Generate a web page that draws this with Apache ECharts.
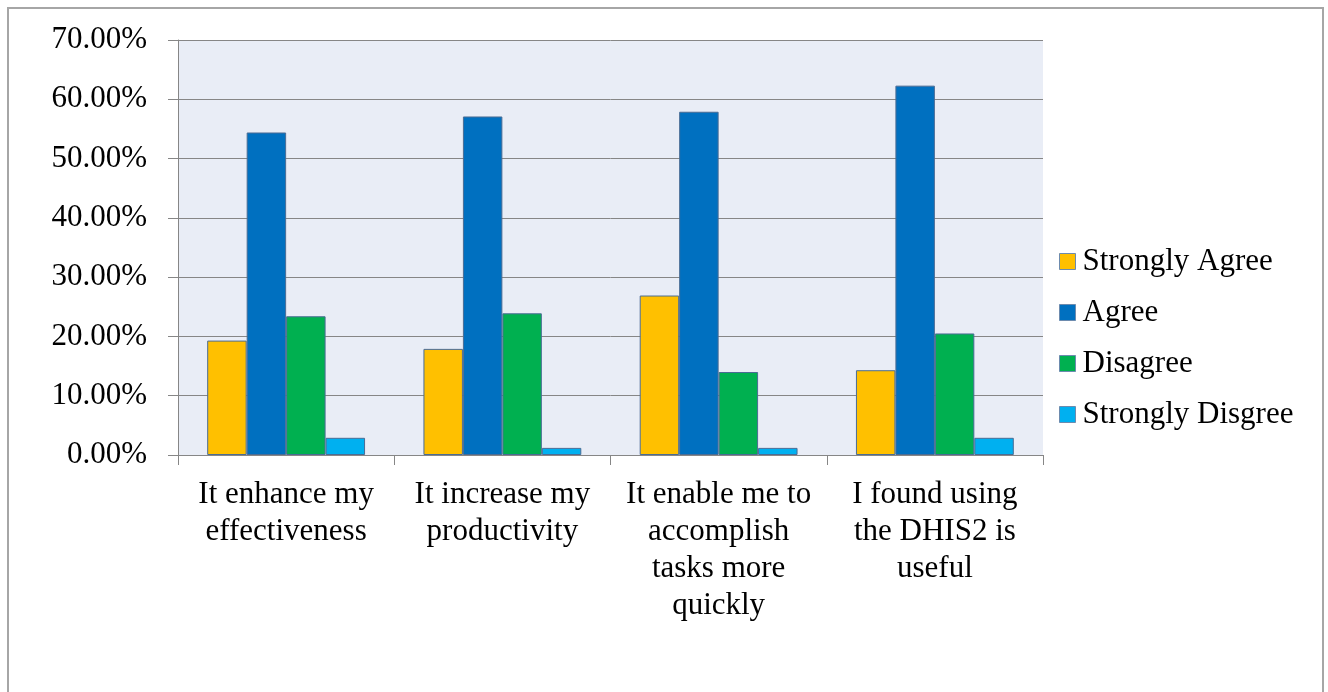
<!DOCTYPE html>
<html>
<head>
<meta charset="utf-8">
<title>DHIS2 usefulness survey</title>
<script src="https://cdn.jsdelivr.net/npm/echarts@6/dist/echarts.min.js"></script>
<style>
  html, body { margin: 0; padding: 0; background: #ffffff; }
  #chart { width: 1328px; height: 692px; }
</style>
</head>
<body>
<div id="chart"></div>
<script>
// Survey statements (x categories)
const categories = [
  'It enhance my\neffectiveness',
  'It increase my\nproductivity',
  'It enable me to\naccomplish\ntasks more\nquickly',
  'I found using\nthe DHIS2 is\nuseful'
];

// Share of respondents per answer, in percent
const stronglyAgree    = [19.3, 17.9, 26.9, 14.3];
const agree            = [54.4, 57.1, 57.9, 62.3];
const disagree         = [23.4, 23.9, 14.0, 20.5];
const stronglyDisagree = [2.9, 1.2, 1.2, 2.9];

const seriesNames  = ['Strongly Agree', 'Agree', 'Disagree', 'Strongly Disgree'];
const seriesColors = ['#FFC000', '#0070C0', '#00B050', '#00B0F0'];
const seriesData   = [stronglyAgree, agree, disagree, stronglyDisagree];

const FONT = "'Liberation Serif', 'Times New Roman', serif";

const chart = echarts.init(document.getElementById('chart'), null, { renderer: 'canvas' });

chart.setOption({
  animation: false,
  backgroundColor: '#ffffff',
  textStyle: { fontFamily: FONT, color: '#000' },
  graphic: [{
    type: 'rect',
    shape: { x: 8, y: 8, width: 1315, height: 720 },
    style: { fill: 'none', stroke: '#a6a6a6', lineWidth: 2 },
    silent: true,
    z: -10
  }],
  grid: {
    left: 178,
    right: 285,
    top: 40,
    bottom: 237,
    show: true,
    backgroundColor: '#E9EDF6',
    borderWidth: 0
  },
  legend: {
    orient: 'vertical',
    left: 1054,
    top: 241,
    itemWidth: 16,
    itemHeight: 16,
    itemGap: 20,
    icon: 'rect',
    data: seriesNames,
    itemStyle: { borderColor: '#6d8bae', borderWidth: 1 },
    textStyle: {
      fontFamily: FONT,
      fontSize: 31,
      lineHeight: 31,
      color: '#000',
      padding: [0, 0, 0, 2]
    }
  },
  xAxis: {
    type: 'category',
    data: categories,
    axisLine: { show: true, lineStyle: { color: '#868686', width: 1 } },
    axisTick: { show: true, alignWithLabel: false, length: 10, lineStyle: { color: '#868686' } },
    axisLabel: {
      interval: 0,
      margin: 21,
      fontFamily: FONT,
      fontSize: 31,
      lineHeight: 37,
      color: '#000',
      align: 'center'
    },
    splitLine: { show: false }
  },
  yAxis: {
    type: 'value',
    min: 0,
    max: 70,
    interval: 10,
    axisLine: { show: true, lineStyle: { color: '#868686', width: 1 } },
    axisTick: { show: true, length: 10, lineStyle: { color: '#868686' } },
    axisLabel: {
      margin: 31,
      fontFamily: FONT,
      fontSize: 31,
      color: '#000',
      formatter: v => v.toFixed(2) + '%'
    },
    splitLine: { show: true, lineStyle: { color: '#868686', width: 1 } }
  },
  series: seriesNames.map((name, i) => ({
    name,
    type: 'bar',
    data: seriesData[i],
    barGap: '0%',
    barCategoryGap: '27%',
    itemStyle: {
      color: seriesColors[i],
      borderColor: '#4a6c94',
      borderWidth: 1
    }
  }))
});
</script>
</body>
</html>
